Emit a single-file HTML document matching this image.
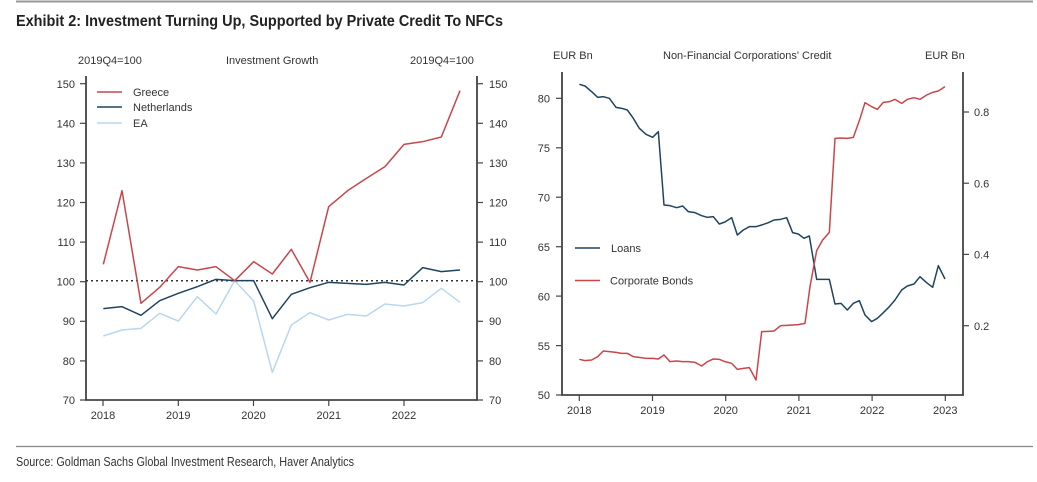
<!DOCTYPE html>
<html><head><meta charset="utf-8"><style>
html,body{margin:0;padding:0;background:#fff;}
svg{display:block;font-family:"Liberation Sans",Arial,sans-serif;}
</style></head><body>
<svg width="1037" height="482" viewBox="0 0 1037 482" xmlns="http://www.w3.org/2000/svg">
<line x1="16" y1="1.5" x2="1033" y2="1.5" stroke="#999" stroke-width="2"/>
<text x="16" y="26" font-family="'Liberation Sans Narrow','Liberation Sans',sans-serif" font-weight="bold" font-size="15.5" fill="#222" textLength="487" lengthAdjust="spacingAndGlyphs">Exhibit 2: Investment Turning Up, Supported by Private Credit To NFCs</text>
<line x1="16" y1="446.5" x2="1033" y2="446.5" stroke="#888" stroke-width="1.2"/>
<text x="16" y="466" font-family="'Liberation Sans Narrow','Liberation Sans',sans-serif" font-size="12.5" fill="#333" textLength="338" lengthAdjust="spacingAndGlyphs">Source: Goldman Sachs Global Investment Research, Haver Analytics</text>

<!-- LEFT CHART -->
<g font-size="11" fill="#333">
<text x="78" y="64">2019Q4=100</text>
<text x="226" y="64">Investment Growth</text>
<text x="410" y="64">2019Q4=100</text>
</g>
<g stroke="#444" stroke-width="1.8" fill="none">
<line x1="86" y1="76" x2="86" y2="400.5"/>
<line x1="477" y1="76" x2="477" y2="400.5"/>
<line x1="85" y1="400" x2="478" y2="400"/>
</g>
<g stroke="#444" stroke-width="1.2">
<line x1="80" y1="83.7" x2="86" y2="83.7"/><line x1="80" y1="123.3" x2="86" y2="123.3"/><line x1="80" y1="162.9" x2="86" y2="162.9"/><line x1="80" y1="202.5" x2="86" y2="202.5"/><line x1="80" y1="242.1" x2="86" y2="242.1"/><line x1="80" y1="281.7" x2="86" y2="281.7"/><line x1="80" y1="321.3" x2="86" y2="321.3"/><line x1="80" y1="360.9" x2="86" y2="360.9"/><line x1="80" y1="400" x2="86" y2="400"/>
<line x1="477" y1="83.7" x2="483" y2="83.7"/><line x1="477" y1="123.3" x2="483" y2="123.3"/><line x1="477" y1="162.9" x2="483" y2="162.9"/><line x1="477" y1="202.5" x2="483" y2="202.5"/><line x1="477" y1="242.1" x2="483" y2="242.1"/><line x1="477" y1="281.7" x2="483" y2="281.7"/><line x1="477" y1="321.3" x2="483" y2="321.3"/><line x1="477" y1="360.9" x2="483" y2="360.9"/><line x1="477" y1="400" x2="483" y2="400"/>
<line x1="103" y1="400" x2="103" y2="406"/><line x1="178.3" y1="400" x2="178.3" y2="406"/><line x1="253.5" y1="400" x2="253.5" y2="406"/><line x1="328.8" y1="400" x2="328.8" y2="406"/><line x1="404" y1="400" x2="404" y2="406"/>
</g>
<g font-size="11" fill="#333" text-anchor="end">
<text x="75" y="88">150</text><text x="75" y="127.5">140</text><text x="75" y="167">130</text><text x="75" y="206.5">120</text><text x="75" y="246">110</text><text x="75" y="285.5">100</text><text x="75" y="325">90</text><text x="75" y="365">80</text><text x="75" y="404">70</text>
</g>
<g font-size="11" fill="#333">
<text x="489" y="88">150</text><text x="489" y="127.5">140</text><text x="489" y="167">130</text><text x="489" y="206.5">120</text><text x="489" y="246">110</text><text x="489" y="285.5">100</text><text x="489" y="325">90</text><text x="489" y="365">80</text><text x="489" y="404">70</text>
</g>
<g font-size="11" fill="#333" text-anchor="middle">
<text x="103" y="419">2018</text><text x="178.3" y="419">2019</text><text x="253.5" y="419">2020</text><text x="328.8" y="419">2021</text><text x="404" y="419">2022</text>
</g>
<line x1="86" y1="280.7" x2="477" y2="280.7" stroke="#333" stroke-width="1.5" stroke-dasharray="2,3"/>
<g transform="translate(0,40) scale(0.33333)" fill="none" stroke-width="1.5" stroke-linejoin="round">
<polyline vector-effect="non-scaling-stroke" stroke="#b9d7ee" points="310,888 366,870 423,865 479,820 535,843 592,770 648,822 704,722 761,783 817,997 874,855 930,818 986,840 1043,823 1099,828 1155,792 1212,798 1268,788 1324,745 1380,787"/>
<polyline vector-effect="non-scaling-stroke" stroke="#1f4460" points="310,806 366,800 423,826 479,782 535,760 592,740 648,718 704,722 761,722 817,836 874,763 930,743 986,727 1043,730 1099,733 1155,727 1212,735 1268,683 1324,695 1380,690"/>
<polyline vector-effect="non-scaling-stroke" stroke="#c9464b" points="310,673 366,452 423,790 479,742 535,680 592,690 648,680 704,722 761,665 817,702 874,628 930,727 986,500 1043,452 1099,415 1155,380 1212,313 1268,305 1324,291 1380,152"/>
</g>
<g stroke-width="1.5">
<line x1="97" y1="92" x2="122" y2="92" stroke="#c9464b"/>
<line x1="97" y1="107" x2="122" y2="107" stroke="#1f4460"/>
<line x1="97" y1="123" x2="122" y2="123" stroke="#b9d7ee"/>
</g>
<g font-size="11" fill="#333">
<text x="133" y="96">Greece</text><text x="133" y="111">Netherlands</text><text x="133" y="127">EA</text>
</g>

<!-- RIGHT CHART -->
<g font-size="11" fill="#333">
<text x="553" y="59">EUR Bn</text>
<text x="663" y="59">Non-Financial Corporations' Credit</text>
<text x="925" y="59">EUR Bn</text>
</g>
<g stroke="#444" stroke-width="1.8" fill="none">
<line x1="562" y1="72" x2="562" y2="395.5"/>
<line x1="963" y1="72" x2="963" y2="395.5"/>
<line x1="561" y1="395" x2="964" y2="395"/>
</g>
<g stroke="#444" stroke-width="1.2">
<line x1="556" y1="98.3" x2="562" y2="98.3"/><line x1="556" y1="147.8" x2="562" y2="147.8"/><line x1="556" y1="197.2" x2="562" y2="197.2"/><line x1="556" y1="246.7" x2="562" y2="246.7"/><line x1="556" y1="296.1" x2="562" y2="296.1"/><line x1="556" y1="345.6" x2="562" y2="345.6"/><line x1="556" y1="395" x2="562" y2="395"/>
<line x1="963" y1="112" x2="969" y2="112"/><line x1="963" y1="183.2" x2="969" y2="183.2"/><line x1="963" y1="254.4" x2="969" y2="254.4"/><line x1="963" y1="325.7" x2="969" y2="325.7"/>
<line x1="579.3" y1="395" x2="579.3" y2="401"/><line x1="652.5" y1="395" x2="652.5" y2="401"/><line x1="725.7" y1="395" x2="725.7" y2="401"/><line x1="798.9" y1="395" x2="798.9" y2="401"/><line x1="872.1" y1="395" x2="872.1" y2="401"/><line x1="945.3" y1="395" x2="945.3" y2="401"/>
</g>
<g font-size="11" fill="#333" text-anchor="end">
<text x="550" y="102.5">80</text><text x="550" y="152">75</text><text x="550" y="201.5">70</text><text x="550" y="251">65</text><text x="550" y="300.5">60</text><text x="550" y="350">55</text><text x="550" y="399">50</text>
</g>
<g font-size="11" fill="#333">
<text x="974" y="116">0.8</text><text x="974" y="187.5">0.6</text><text x="974" y="258.5">0.4</text><text x="974" y="330">0.2</text>
</g>
<g font-size="11" fill="#333" text-anchor="middle">
<text x="579.3" y="414">2018</text><text x="652.5" y="414">2019</text><text x="725.7" y="414">2020</text><text x="798.9" y="414">2021</text><text x="872.1" y="414">2022</text><text x="945.3" y="414">2023</text>
</g>
<g transform="translate(520,40) scale(0.33333)" fill="none" stroke-width="1.5" stroke-linejoin="round">
<polyline vector-effect="non-scaling-stroke" stroke="#1f4460" points="178,133 195,138 215,155 233,172 250,170 268,175 288,202 305,205 322,210 340,235 358,265 378,283 398,292 415,275 432,495 450,497 470,503 488,498 505,515 525,518 545,527 562,532 580,530 598,552 615,546 635,533 652,585 670,570 688,560 708,560 725,555 745,548 762,540 782,538 800,533 818,578 835,582 852,595 868,588 890,718 908,718 928,718 945,792 963,790 982,810 1000,790 1018,782 1035,825 1055,845 1072,835 1090,818 1108,800 1125,780 1145,750 1162,738 1182,732 1200,710 1220,728 1238,742 1255,677 1275,717"/>
<polyline vector-effect="non-scaling-stroke" stroke="#c9464b" points="178,958 195,962 215,960 233,950 250,933 268,935 288,937 305,940 322,940 340,950 358,952 378,955 398,955 415,957 432,945 450,965 470,963 488,965 505,965 525,967 545,978 562,965 580,957 598,958 615,965 635,970 652,988 670,985 688,983 708,1020 725,875 745,874 762,873 782,857 800,856 818,855 835,854 855,850 870,740 890,632 908,600 928,577 945,295 963,294 982,295 1000,292 1018,242 1035,188 1055,200 1072,208 1090,187 1108,185 1125,178 1145,190 1162,178 1182,173 1200,178 1220,165 1238,157 1255,153 1275,140"/>
</g>
<line x1="575" y1="248" x2="600" y2="248" stroke="#1f4460" stroke-width="1.5"/>
<line x1="575" y1="280.5" x2="600" y2="280.5" stroke="#c9464b" stroke-width="1.5"/>
<g font-size="11" fill="#333">
<text x="611" y="252">Loans</text><text x="610" y="284.5">Corporate Bonds</text>
</g>
</svg>
</body></html>
